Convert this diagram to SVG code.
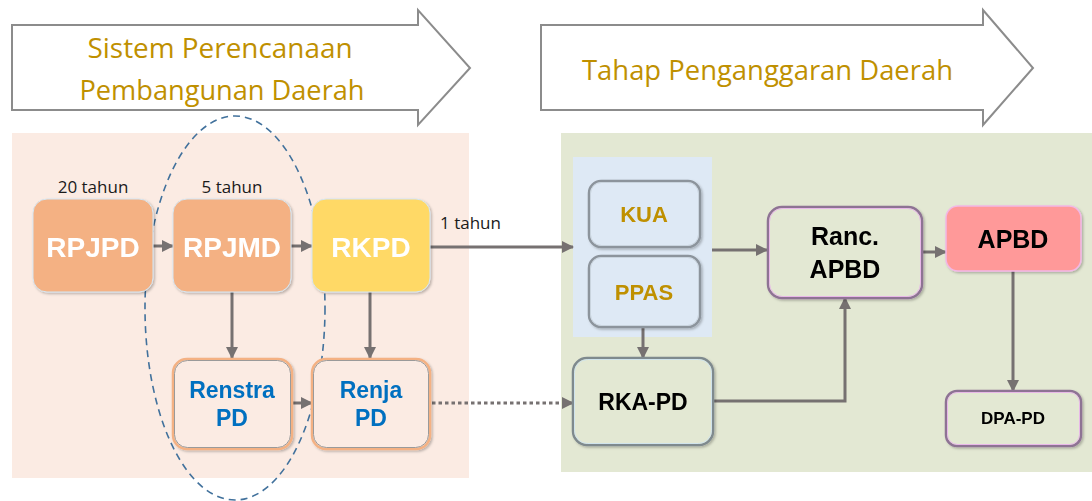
<svg xmlns="http://www.w3.org/2000/svg" width="1092" height="501" viewBox="0 0 1092 501">
<defs>
<style>
.band{fill:#fff;stroke:#8c8c8c;stroke-width:2}
.bandtxt{font-family:"Open Sans","Liberation Sans",sans-serif;fill:#BF9000;font-size:27px}
.yr{font-family:"Open Sans","Liberation Sans",sans-serif;fill:#1a1a1a;font-size:17px}
.big{font-family:"Liberation Sans",Arial,sans-serif;font-weight:bold;fill:#fff;font-size:28px;text-anchor:middle}
.blue{font-family:"Liberation Sans",Arial,sans-serif;font-weight:bold;fill:#0070C0;font-size:23px;text-anchor:middle}
.gold{font-family:"Liberation Sans",Arial,sans-serif;font-weight:bold;fill:#BF9000;font-size:22px;text-anchor:middle}
.blk{font-family:"Liberation Sans",Arial,sans-serif;font-weight:bold;fill:#000;font-size:25px;text-anchor:middle}
.con{fill:none;stroke:#767171;stroke-width:3}
</style>
<marker id="ah" markerUnits="userSpaceOnUse" markerWidth="12" markerHeight="12" refX="11" refY="6" orient="auto">
<path d="M0,0 L12,6 L0,12 z" fill="#767171"/>
</marker>
<filter id="sh" x="-10%" y="-10%" width="125%" height="125%">
<feDropShadow dx="1.5" dy="1.5" stdDeviation="1.2" flood-color="#000" flood-opacity="0.25"/>
</filter>
</defs>

<!-- header arrows -->
<g id="band-perencanaan">
<path class="band" d="M12,25 H418 V10 L470,68 L418,125 V110 H12 Z"/>
<text class="bandtxt" x="220" y="58" text-anchor="middle" textLength="265" lengthAdjust="spacingAndGlyphs">Sistem Perencanaan</text>
<text class="bandtxt" x="222" y="100" text-anchor="middle" textLength="285" lengthAdjust="spacingAndGlyphs">Pembangunan Daerah</text>
</g>
<g id="band-penganggaran">
<path class="band" d="M541,25 H983 V10 L1033,68 L983,125 V110 H541 Z"/>
<text class="bandtxt" x="582" y="80" textLength="371" lengthAdjust="spacingAndGlyphs">Tahap Penganggaran Daerah</text>
</g>

<!-- panels -->
<rect id="panel-left" x="12" y="133" width="457" height="345" fill="#FBEBE3"/>
<rect id="panel-right" x="561" y="133" width="531" height="339" fill="#E3E8D3"/>
<rect id="panel-blue" x="573" y="157" width="139" height="180" fill="#DEE9F5"/>

<!-- year labels -->
<text class="yr" x="93" y="193" text-anchor="middle">20 tahun</text>
<text class="yr" x="232" y="193" text-anchor="middle">5 tahun</text>
<text class="yr" x="440" y="229">1 tahun</text>

<!-- connectors -->
<g id="connectors">
<line class="con" x1="153" y1="246" x2="173" y2="246" marker-end="url(#ah)"/>
<line class="con" x1="291" y1="246" x2="312" y2="246" marker-end="url(#ah)"/>
<line class="con" x1="232" y1="292" x2="232" y2="358" marker-end="url(#ah)"/>
<line class="con" x1="370" y1="292" x2="370" y2="358" marker-end="url(#ah)"/>
<line class="con" x1="292" y1="403" x2="312" y2="403" marker-end="url(#ah)"/>
<line class="con" x1="430" y1="247" x2="573" y2="247" marker-end="url(#ah)"/>
<line class="con" x1="432" y1="403" x2="573" y2="403" stroke-dasharray="3.5 3" marker-end="url(#ah)"/>
<line class="con" x1="643" y1="327" x2="643" y2="358" marker-end="url(#ah)"/>
<line class="con" x1="712" y1="250" x2="767" y2="250" marker-end="url(#ah)"/>
<polyline class="con" points="713,401 845,401 845,298" marker-end="url(#ah)"/>
<line class="con" x1="922" y1="252" x2="946" y2="252" marker-end="url(#ah)"/>
<line class="con" x1="1013" y1="271" x2="1013" y2="391" marker-end="url(#ah)"/>
</g>

<!-- dashed ellipse -->
<ellipse id="highlight" cx="235" cy="308" rx="90" ry="192" fill="none" stroke="#41719C" stroke-width="1.6" stroke-dasharray="7 5"/>

<g id="RPJPD" filter="url(#sh)">
<rect x="33" y="199" width="120" height="93" rx="14" fill="#F4B183" stroke="#D5E6F2" stroke-width="1"/>
<text class="big" x="93" y="257">RPJPD</text>
</g>
<g id="RPJMD" filter="url(#sh)">
<rect x="173" y="199" width="118" height="93" rx="14" fill="#F4B183" stroke="#D5E6F2" stroke-width="1"/>
<text class="big" x="232" y="257">RPJMD</text>
</g>
<g id="RKPD" filter="url(#sh)">
<rect x="312" y="199" width="118" height="93" rx="14" fill="#FFD966" stroke="#D5E6F2" stroke-width="1"/>
<text class="big" x="371" y="257">RKPD</text>
</g>

<g id="RenstraPD" filter="url(#sh)">
<rect x="173" y="359" width="119" height="90" rx="14" fill="#FBEBE3" stroke="#F4B183" stroke-width="2.5"/>
<rect x="174.5" y="360.5" width="116" height="87" rx="13" fill="none" stroke="#9a9a9a" stroke-width="1"/>
<text class="blue" x="232" y="398">Renstra</text>
<text class="blue" x="232" y="426">PD</text>
</g>
<g id="RenjaPD" filter="url(#sh)">
<rect x="312" y="359" width="118" height="90" rx="14" fill="#FBEBE3" stroke="#F4B183" stroke-width="2.5"/>
<rect x="313.5" y="360.5" width="115" height="87" rx="13" fill="none" stroke="#9a9a9a" stroke-width="1"/>
<text class="blue" x="371" y="398">Renja</text>
<text class="blue" x="371" y="426">PD</text>
</g>

<g id="KUA" filter="url(#sh)">
<rect x="589" y="181" width="111" height="66" rx="12" fill="#DEE9F5" stroke="#8C949C" stroke-width="2.5"/>
<rect x="590.5" y="182.5" width="108" height="63" rx="11" fill="none" stroke="#C9D4DE" stroke-width="1"/>
<text class="gold" x="644" y="222">KUA</text>
</g>
<g id="PPAS" filter="url(#sh)">
<rect x="589" y="256" width="111" height="71" rx="12" fill="#DEE9F5" stroke="#8C949C" stroke-width="2.5"/>
<rect x="590.5" y="257.5" width="108" height="68" rx="11" fill="none" stroke="#C9D4DE" stroke-width="1"/>
<text class="gold" x="644" y="300">PPAS</text>
</g>

<g id="RKAPD" filter="url(#sh)">
<rect x="573" y="358" width="140" height="87" rx="14" fill="#E3E8D3" stroke="#7F8A8E" stroke-width="2.5"/>
<rect x="574.5" y="359.5" width="137" height="84" rx="13" fill="none" stroke="#CFE3EC" stroke-width="1"/>
<text class="blk" x="643" y="410" style="font-size:23px">RKA-PD</text>
</g>

<g id="RancAPBD" filter="url(#sh)">
<rect x="768" y="207" width="154" height="91" rx="14" fill="#E3E8D3" stroke="#8E7394" stroke-width="2.5"/>
<rect x="769.5" y="208.5" width="151" height="88" rx="13" fill="none" stroke="#E8B8E8" stroke-width="1"/>
<text class="blk" x="845" y="245">Ranc.</text>
<text class="blk" x="845" y="278">APBD</text>
</g>

<g id="APBD" filter="url(#sh)">
<rect x="946" y="206" width="135" height="65" rx="12" fill="#FF9999" stroke="#F2B8E6" stroke-width="1.5"/>
<text class="blk" x="1013" y="248">APBD</text>
</g>

<g id="DPAPD" filter="url(#sh)">
<rect x="946" y="391" width="135" height="55" rx="11" fill="#E3E8D3" stroke="#8E7394" stroke-width="2.5"/>
<rect x="947.5" y="392.5" width="132" height="52" rx="10" fill="none" stroke="#E8B8E8" stroke-width="1"/>
<text class="blk" x="1013" y="424" style="font-size:17px">DPA-PD</text>
</g>
</svg>
